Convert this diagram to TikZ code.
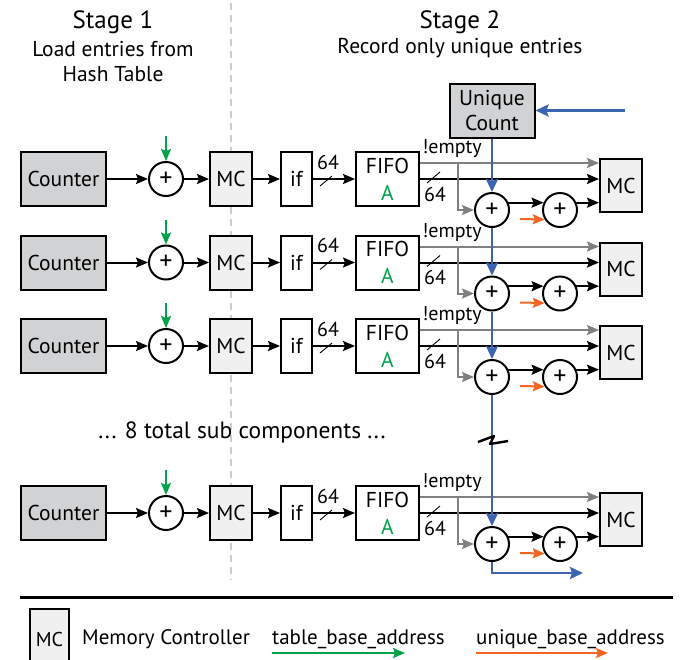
\documentclass[tikz,border=0pt]{standalone}
\usepackage{fontspec}
\setmainfont{PT Sans}
\usetikzlibrary{arrows.meta}

\definecolor{boxgray}{HTML}{D1D2D4}
\definecolor{mcgray}{HTML}{EFF0EF}
\definecolor{addrgreen}{HTML}{00A14B}
\definecolor{addrorange}{HTML}{F26522}
\definecolor{countblue}{HTML}{3D64B0}
\definecolor{flaggray}{HTML}{808080}
\definecolor{divgray}{HTML}{CCCCCC}

\begin{document}
\begin{tikzpicture}[x=1pt, y=-1pt,
  font=\fontsize{21.5}{24}\selectfont,
  blk/.style={draw, line width=2pt, inner sep=0pt, minimum height=54pt},
  cnt/.style={blk, fill=boxgray, minimum width=85pt},
  mc/.style={blk, fill=mcgray, minimum width=42pt},
  adder/.style={circle, draw, line width=2pt, minimum size=34pt, inner sep=0pt,
                font=\fontsize{26}{28}\selectfont},
  arr/.style={line width=2pt, -{Stealth[length=12pt,width=10pt,inset=2pt]}},
  flow/.style={arr, line width=2.6pt, countblue, -{Stealth[length=13pt,width=12pt,inset=2pt]}},
  lbl/.style={inner sep=0pt, font=\fontsize{20}{22}\selectfont},
  title/.style={inner sep=0pt, font=\fontsize{25}{28}\selectfont},
  sub/.style={inner sep=0pt, font=\fontsize{21.5}{24}\selectfont}]
  \useasboundingbox (0,0) rectangle (682,659);
  \clip (0,0) rectangle (682,659);

  % stage divider
  \draw[divgray, line width=2pt, dash pattern=on 7pt off 5pt] (231,3) -- (231,580);

  % headings
  \node[title] (st1) at (113,22) {Stage 1};
  \node[sub] (st1a) at (113,49) {Load entries from};
  \node[sub] (st1b) at (113,74) {Hash Table};
  \node[title] (st2) at (460,22) {Stage 2};
  \node[sub] (st2a) at (460,48) {Record only unique entries};
  \node[sub, font=\fontsize{23.5}{26}\selectfont] (more) at (242,432) {... 8 total sub components ...};

  % unique counter
  \node[blk, fill=boxgray, minimum width=85pt, align=center,
        font=\fontsize{21.5}{25}\selectfont] (uc) at (492,110.5) {Unique\\Count};
  \coordinate (bin) at (625,110.5);
  \coordinate (bout) at (583,573);

  % sub components
  \foreach \i/\y in {1/179, 2/262.5, 3/346, 4/513} {
    \node[cnt] (cnt\i) at (63.5,\y) {Counter};
    \node[adder] (add\i) at (166,\y) {+};
    \node[mc] (mc\i) at (231,\y) {MC};
    \node[blk, minimum width=31pt] (if\i) at (296.5,\y) {if};
    \node[blk, minimum width=63pt, align=center,
          font=\fontsize{21.5}{27}\selectfont] (fifo\i) at (387.5,\y) {FIFO\\\textcolor{addrgreen}{A}};
    \node[mc, minimum height=53pt] (mcb\i) at (621,\y+6.5) {MC};
    \node[adder] (sum\i) at (492,\y+31) {+};
    \node[adder] (off\i) at (560,\y+31) {+};
    \coordinate (tba\i) at (166,\y-43);
    \coordinate (br\i) at (458,\y-16);
    \coordinate (uba\i) at (520,\y+40);

    \draw[arr] (cnt\i) -- (add\i);
    \draw[arr] (add\i) -- (mc\i);
    \draw[arr] (mc\i) -- (if\i);
    \draw[arr] (if\i) -- (fifo\i);
    \draw[arr, addrgreen] (tba\i) -- (add\i);

    % bus widths
    \draw[line width=0.9pt] (320,\y+7) -- (332,\y-3);
    \node[lbl] (win\i) at (328,\y-17) {64};
    \draw[line width=0.9pt] (427,\y+4) -- (440,\y-7);
    \node[lbl] (wout\i) at (435,\y+15) {64};
    \node[lbl] (emp\i) at (452,\y-30) {!empty};

    \draw[arr, flaggray] ([yshift=16pt]fifo\i.east) -- ([yshift=16pt]fifo\i.east -| mcb\i.west);
    \draw[arr] (fifo\i) -- (fifo\i -| mcb\i.west);
    \draw[arr, flaggray] (br\i) |- (sum\i);
    \draw[arr] (sum\i.24) -- (off\i.156);
    \draw[arr] (off\i.24) -- (off\i.24 -| mcb\i.west);
    \draw[arr, addrorange] (uba\i) -- (off\i.212);
  }

  % unique count chain
  \draw[flow] (bin) -- (uc);
  \draw[flow] (uc) -- (sum1);
  \draw[flow] (sum1) -- (sum2);
  \draw[flow] (sum2) -- (sum3);
  \draw[flow] (sum3) -- (sum4);
  \draw[flow] (sum4) |- (bout);
  \draw[line width=2.4pt, line join=round] (478,442) -- (494,436) -- (490,444) -- (508,441);

  % legend
  \draw[line width=3pt] (20,597) -- (673,597);
  \node[mc, minimum width=39pt, minimum height=60pt] (lmc) at (49.5,639) {};
  \node[lbl] at (lmc.center) {MC};
  \node[lbl, font=\fontsize{21}{24}\selectfont, anchor=west] (lmct) at (82,639) {Memory Controller};
  \node[lbl, font=\fontsize{21}{24}\selectfont, anchor=west] (ltba) at (272,639) {table\_base\_address};
  \node[lbl, font=\fontsize{21}{24}\selectfont, anchor=west] (luba) at (476,639) {unique\_base\_address};
  \coordinate (gs) at (272,653);
  \coordinate (ge) at (405,653);
  \coordinate (os) at (476,653);
  \coordinate (oe) at (608,653);
  \draw[arr, addrgreen] (gs) -- (ge);
  \draw[arr, addrorange] (os) -- (oe);
\end{tikzpicture}
\end{document}
